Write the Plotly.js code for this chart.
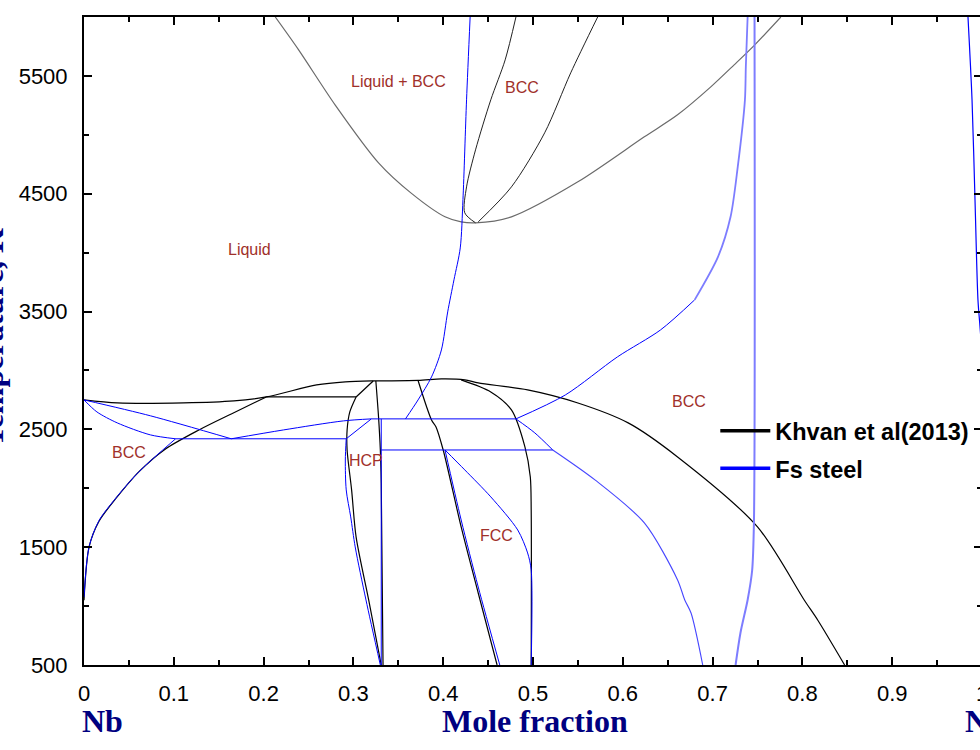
<!DOCTYPE html>
<html>
<head>
<meta charset="utf-8">
<script src="https://cdn.plot.ly/plotly-3.0.1.min.js"></script>
<style>
html, body { margin:0; padding:0; overflow:hidden; background:#fff; }
#chart { width:1000px; height:750px; }
</style>
</head>
<body>
<div id="chart"></div>
<script>
// ---------- Khvan et al (2013) : black curves ----------
const kLiqX = [0, 0.037, 0.111, 0.167, 0.203, 0.259, 0.291, 0.322, 0.372, 0.398, 0.424, 0.439, 0.494, 0.55, 0.606, 0.661, 0.75, 0.802, 0.817, 0.847];
const kLiqT = [2750, 2724, 2724, 2741, 2775, 2877, 2903, 2911, 2915, 2928, 2920, 2894, 2835, 2724, 2555, 2266, 1672, 1052, 882, 500];
const kSolvX = [0, 0.0056, 0.0167, 0.036, 0.061, 0.09, 0.128, 0.164, 0.203];
const kSolvT = [1050, 1500, 1720, 1918, 2139, 2330, 2495, 2631, 2775];
const kEutX = [0.203, 0.303];
const kEutT = [2775, 2775];
const kPerX = [0.322, 0.303];
const kPerT = [2911, 2775];
const kHcpLX = [0.303, 0.296, 0.293, 0.293, 0.298, 0.303, 0.317, 0.331];
const kHcpLT = [2775, 2648, 2495, 2325, 1986, 1587, 1052, 500];
const kHcpRX = [0.325, 0.328, 0.330, 0.331, 0.333];
const kHcpRT = [2911, 2606, 2325, 2044, 500];
const kFccLX = [0.372, 0.387, 0.392, 0.400, 0.420, 0.439, 0.460];
const kFccLT = [2915, 2580, 2521, 2325, 1672, 1111, 500];
const kFccRX = [0.420, 0.453, 0.476, 0.491, 0.497, 0.498, 0.498];
const kFccRT = [2920, 2818, 2665, 2351, 2096, 1816, 500];
// high temperature region (grey)
const kTopX = [0.213, 0.239, 0.280, 0.328, 0.364, 0.402, 0.420, 0.436, 0.476, 0.550, 0.624, 0.661, 0.698, 0.724, 0.747, 0.776];
const kTopT = [6000, 5721, 5250, 4762, 4507, 4304, 4261, 4253, 4304, 4601, 4983, 5170, 5407, 5594, 5764, 6000];
const kBccAX = [0.436, 0.424, 0.426, 0.436, 0.453, 0.469, 0.481];
const kBccAT = [4253, 4338, 4558, 4872, 5297, 5636, 6000];
const kBccBX = [0.439, 0.476, 0.513, 0.542, 0.572];
const kBccBT = [4261, 4558, 5017, 5526, 6000];

// ---------- Fs steel : blue curves ----------
const fLiqAX = [0, 0.074, 0.164];
const fLiqAT = [2750, 2615, 2420];
const fLiqBX = [0.164, 0.222, 0.289, 0.320];
const fLiqBT = [2420, 2495, 2572, 2589];
const fSolX = [0, 0.0144, 0.037, 0.074, 0.102];
const fSolT = [2750, 2648, 2555, 2453, 2420];
const fEutX = [0.102, 0.292];
const fEutT = [2420, 2420];
const fSolvX = [0, 0.0056, 0.0167, 0.0356, 0.061, 0.102];
const fSolvT = [1077, 1502, 1725, 1918, 2139, 2420];
const fPerX = [0.292, 0.320];
const fPerT = [2420, 2589];
const fHcpLX = [0.292, 0.291, 0.292, 0.297, 0.302, 0.314, 0.330];
const fHcpLT = [2420, 2240, 1986, 1757, 1502, 1052, 500];
const fHcpRX = [0.331, 0.331];
const fHcpRT = [2589, 500];
const fH1X = [0.320, 0.481];
const fH1T = [2589, 2589];
const fH2X = [0.331, 0.522];
const fH2T = [2325, 2325];
const fUpX = [0.358, 0.372, 0.387, 0.398, 0.405, 0.412, 0.419, 0.422, 0.426, 0.430];
const fUpT = [2589, 2750, 2945, 3174, 3497, 3769, 4040, 4450, 5297, 6000];
const fRtUpX = [0.481, 0.536, 0.594, 0.642, 0.680];
const fRtUpT = [2589, 2792, 3115, 3344, 3599];
const fRtUp2X = [0.680, 0.706, 0.720, 0.728, 0.736, 0.737, 0.739];
const fRtUp2T = [3599, 3964, 4304, 4728, 5297, 5577, 6000];
const fRtLinkX = [0.481, 0.502, 0.522];
const fRtLinkT = [2589, 2470, 2325];
const fRtDnX = [0.522, 0.569, 0.624, 0.661, 0.669, 0.676, 0.689];
const fRtDnT = [2325, 2071, 1706, 1222, 1052, 941, 500];
const fFccLX = [0.402, 0.420, 0.439, 0.463];
const fFccLT = [2325, 1731, 1162, 500];
const fFccRX = [0.402, 0.424, 0.453, 0.483, 0.494, 0.498, 0.498];
const fFccRT = [2325, 2156, 1927, 1646, 1451, 1307, 500];
const fVertX = [0.7256, 0.731, 0.739, 0.744, 0.746, 0.7467];
const fVertT = [500, 772, 1052, 1300, 1700, 6000];
const fEdgeX = [0.9844, 0.9889, 0.9922, 0.9955, 0.9978, 1.0];
const fEdgeT = [6000, 5297, 4448, 3599, 3370, 3150];

// ---------- axis & labels ----------
const yTickVals = [500, 1500, 2500, 3500, 4500, 5500];
const phaseLabels = ["Liquid + BCC", "BCC", "Liquid", "BCC", "BCC", "HCP", "FCC"];
const phaseLabelX = [0.350, 0.488, 0.184, 0.674, 0.050, 0.314, 0.459];
const phaseLabelT = [5449, 5398, 4023, 2733, 2300, 2240, 1595];
const legendNames = ["Khvan et al(2013)", "Fs steel"];

const BLACK = '#000000', GREY = '#6a6a6a', BLUE = '#0000ff', LBLUE = 'rgb(125,125,255)';
function line(x, y, color, w, smooth) {
  const ln = {color: color, width: w};
  if (smooth) { ln.shape = 'spline'; ln.smoothing = 0.8; }
  return {x: x, y: y, type: 'scatter', mode: 'lines', line: ln, showlegend: false, hoverinfo: 'skip'};
}
const S = true;
const traces = [
  line(kLiqX, kLiqT, BLACK, 1.2, S), line(kSolvX, kSolvT, BLACK, 1.2, S), line(kEutX, kEutT, BLACK, 1.2),
  line(kPerX, kPerT, BLACK, 1.2), line(kHcpLX, kHcpLT, BLACK, 1.2, S), line(kHcpRX, kHcpRT, BLACK, 1.2, S),
  line(kFccLX, kFccLT, BLACK, 1.2, S), line(kFccRX, kFccRT, BLACK, 1.2, S),
  line(kTopX, kTopT, GREY, 1.2, S), line(kBccAX, kBccAT, '#222', 1, S), line(kBccBX, kBccBT, '#222', 1, S),
  line(fLiqAX, fLiqAT, BLUE, 1, S), line(fLiqBX, fLiqBT, BLUE, 1, S), line(fSolX, fSolT, BLUE, 1, S),
  line(fEutX, fEutT, BLUE, 1), line(fSolvX, fSolvT, BLUE, 1, S), line(fPerX, fPerT, BLUE, 1),
  line(fHcpLX, fHcpLT, BLUE, 1, S), line(fHcpRX, fHcpRT, BLUE, 1), line(fH1X, fH1T, BLUE, 1),
  line(fH2X, fH2T, BLUE, 1), line(fUpX, fUpT, BLUE, 1, S), line(fRtUpX, fRtUpT, BLUE, 1, S),
  line(fRtUp2X, fRtUp2T, LBLUE, 1.8, S), line(fRtLinkX, fRtLinkT, BLUE, 1, S),
  line(fRtDnX, fRtDnT, 'rgb(70,70,255)', 1.1, S), line(fFccLX, fFccLT, BLUE, 1, S),
  line(fFccRX, fFccRT, BLUE, 1, S), line(fVertX, fVertT, LBLUE, 2, S), line(fEdgeX, fEdgeT, BLUE, 1.2, S),
  {x: [null], y: [null], type: 'scatter', mode: 'lines', name: legendNames[0], line: {color: BLACK, width: 3.5}, legendgroup: 'a'},
  {x: [null], y: [null], type: 'scatter', mode: 'lines', name: legendNames[1], line: {color: BLUE, width: 3.5}, legendgroup: 'b'}
];

const annotations = phaseLabels.map((t, i) => ({
  x: phaseLabelX[i], y: phaseLabelT[i], xref: 'x', yref: 'y', text: t, showarrow: false,
  font: {family: 'Liberation Sans, Arial', size: 16, color: '#a0302a'}
}));
const titleFont = {family: 'Liberation Serif, Times New Roman', size: 32, color: '#000080', weight: 'bold'};
annotations.push(
  {xref: 'paper', yref: 'paper', x: 0.502, y: -0.0864, text: 'Mole fraction', showarrow: false, xanchor: 'center', yanchor: 'middle', font: titleFont},
  {xref: 'paper', yref: 'paper', x: -0.0045, y: -0.0864, text: 'Nb', showarrow: false, xanchor: 'left', yanchor: 'middle', font: titleFont},
  {xref: 'paper', yref: 'paper', x: 0.979, y: -0.0864, text: 'N', showarrow: false, xanchor: 'left', yanchor: 'middle', font: titleFont},
  {xref: 'paper', yref: 'paper', x: 0, xshift: -92, y: 0.505, text: 'Temperature, K', textangle: -90, showarrow: false, xanchor: 'center', yanchor: 'middle', font: titleFont}
);

const tickFont = {family: 'Liberation Sans, Arial', size: 22, color: '#000'};
const layout = {
  width: 1000, height: 750,
  margin: {l: 84, r: 18, t: 17, b: 85},
  paper_bgcolor: '#fff', plot_bgcolor: '#fff',
  showlegend: true,
  legend: {x: 0.703, y: 0.395, xanchor: 'left', yanchor: 'top', bgcolor: 'rgba(0,0,0,0)',
           font: {family: 'Liberation Sans, Arial', size: 23.5, color: '#000', weight: 'bold'},
           traceorder: 'grouped', tracegroupgap: 4, itemwidth: 50},
  xaxis: {range: [0, 1], showgrid: false, zeroline: false, showline: true, linecolor: '#000', linewidth: 2,
          mirror: 'ticks', ticks: 'inside', ticklen: 8, tickwidth: 2, tickcolor: '#000', dtick: 0.1, tick0: 0,
          minor: {dtick: 0.05, tick0: 0, ticks: 'inside', ticklen: 5, tickwidth: 2, tickcolor: '#000', showgrid: false},
          tickfont: tickFont, ticklabelstandoff: 8},
  yaxis: {range: [500, 6000], showgrid: false, zeroline: false, showline: true, linecolor: '#000', linewidth: 2,
          mirror: 'ticks', ticks: 'inside', ticklen: 8, tickwidth: 2, tickcolor: '#000', tickvals: yTickVals,
          minor: {dtick: 500, tick0: 500, ticks: 'inside', ticklen: 5, tickwidth: 2, tickcolor: '#000', showgrid: false},
          tickfont: tickFont, ticklabelstandoff: 10},
  annotations: annotations
};
Plotly.newPlot('chart', traces, layout, {displayModeBar: false, staticPlot: true});
</script>
</body>
</html>
